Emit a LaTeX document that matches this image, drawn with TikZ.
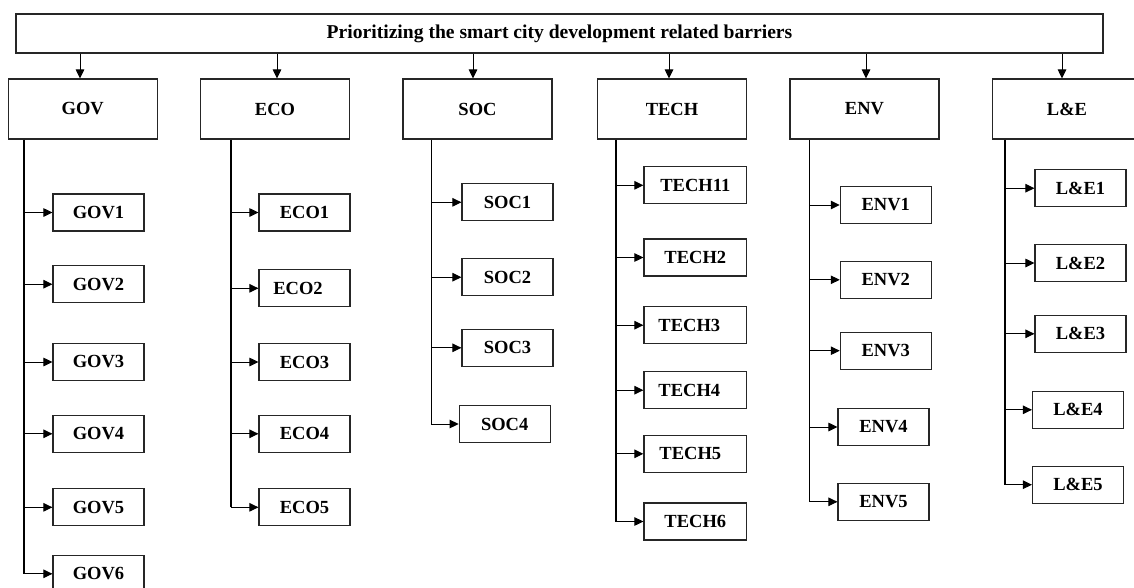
\documentclass[tikz,border=0pt]{standalone}
\usepackage{fontspec}
\setmainfont{Liberation Serif}
\usetikzlibrary{arrows.meta}
\begin{document}
\begin{tikzpicture}[x=1pt,y=-1pt,
  box/.style={draw=black!85,line width=1.1pt,inner sep=0pt,font=\fontsize{18.5}{22}\selectfont\bfseries},
  topbox/.style={box,minimum width=149pt,minimum height=60pt},
  leaf/.style={box,minimum width=91pt,minimum height=37pt},
  arr/.style={line width=1pt,-{Triangle[length=9pt,width=8.5pt]}},
  trunk/.style={line width=1.8pt},
]
\useasboundingbox (0,0) rectangle (1134,587);
% title
\node[box,minimum width=1087pt,minimum height=39pt,font=\fontsize{19.6}{23}\selectfont\bfseries] (title) at (559.5,33.5) {Prioritizing the smart city development related barriers};
% category boxes
\node[topbox] (gov) at (82.7,109) {GOV};
\node[topbox] (eco) at (275,109) {ECO};
\node[topbox] (soc) at (477.5,109) {SOC};
\node[topbox] (tech) at (672,109) {TECH};
\node[topbox] (env) at (864.5,109) {ENV};
\node[topbox] (le) at (1067,109) {L\&E};
% arrows from title
\foreach \n/\dx in {gov/-2.7,eco/2,soc/-4.5,tech/-3,env/1.5,le/-5}{
  \draw[arr] ([xshift=\dx pt]\n.north |- title.south) -- ([xshift=\dx pt]\n.north);
}
% GOV leaves
\node[leaf] (gov1) at (98.5,212.5) {GOV1};
\node[leaf] (gov2) at (98.5,284.2) {GOV2};
\node[leaf] (gov3) at (98.5,362) {GOV3};
\node[leaf] (gov4) at (98.5,433.8) {GOV4};
\node[leaf] (gov5) at (98.5,507.3) {GOV5};
\node[leaf] (gov6) at (98.5,573.8) {GOV6};
% ECO leaves
\node[leaf] (eco1) at (304.5,212.5) {ECO1};
\node[leaf] (eco2) at (304.5,288.3) {ECO2\kern13pt};
\node[leaf] (eco3) at (304.5,362) {ECO3};
\node[leaf] (eco4) at (304.5,433.8) {ECO4};
\node[leaf] (eco5) at (304.5,507.3) {ECO5};
% SOC leaves
\node[leaf] (soc1) at (507.5,202.3) {SOC1};
\node[leaf] (soc2) at (507.5,277.2) {SOC2};
\node[leaf] (soc3) at (507.5,347.8) {SOC3};
\node[leaf] (soc4) at (504.7,424) {SOC4};
% TECH leaves
\node[leaf,minimum width=102.7pt] (tech1) at (695.3,185.3) {TECH11};
\node[leaf,minimum width=102.7pt] (tech2) at (695.3,257.5) {TECH2};
\node[leaf,minimum width=102.7pt] (tech3) at (695.3,325.2) {TECH3\kern12pt};
\node[leaf,minimum width=102.7pt] (tech4) at (695.3,390.2) {TECH4\kern12pt};
\node[leaf,minimum width=102.7pt] (tech5) at (695.3,453.8) {TECH5\kern10pt};
\node[leaf,minimum width=102.7pt] (tech6) at (695.3,521.5) {TECH6};
% ENV leaves
\node[leaf] (env1) at (885.8,205) {ENV1};
\node[leaf] (env2) at (885.8,279.8) {ENV2};
\node[leaf] (env3) at (885.8,350.7) {ENV3};
\node[leaf] (env4) at (883.5,427) {ENV4};
\node[leaf] (env5) at (883.5,501.8) {ENV5};
% L&E leaves
\node[leaf] (le1) at (1080.5,188.2) {L\&E1};
\node[leaf] (le2) at (1080.5,263) {L\&E2};
\node[leaf] (le3) at (1080.5,333.8) {L\&E3};
\node[leaf] (le4) at (1078,409.8) {L\&E4};
\node[leaf] (le5) at (1078,484.7) {L\&E5};
% trunk coordinates
\coordinate (govt) at ([xshift=16.7pt]gov.south west);
\coordinate (ecot) at ([xshift=30.7pt]eco.south west);
\coordinate (soct) at ([xshift=29pt]soc.south west);
\coordinate (techt) at ([xshift=19pt]tech.south west);
\coordinate (envt) at ([xshift=20pt]env.south west);
\coordinate (let) at ([xshift=13pt]le.south west);
% trunks
\draw[trunk] (govt) -- (govt |- gov6.west);
\draw[trunk] (ecot) -- (ecot |- eco5.west);
\draw[trunk,line width=1.2pt] (soct) -- (soct |- soc4.west);
\draw[trunk] (techt) -- (techt |- tech6.west);
\draw[trunk] (envt) -- (envt |- env5.west);
\draw[trunk] (let) -- (let |- le5.west);
% branches
\foreach \i in {1,...,6}{\draw[arr] (govt |- gov\i.west) -- (gov\i.west);}
\foreach \i in {1,...,5}{\draw[arr] (ecot |- eco\i.west) -- (eco\i.west);}
\foreach \i in {1,...,4}{\draw[arr] (soct |- soc\i.west) -- (soc\i.west);}
\foreach \i in {1,...,6}{\draw[arr] (techt |- tech\i.west) -- (tech\i.west);}
\foreach \i in {1,...,5}{\draw[arr] (envt |- env\i.west) -- (env\i.west);}
\foreach \i in {1,...,5}{\draw[arr] (let |- le\i.west) -- (le\i.west);}
\end{tikzpicture}
\end{document}
